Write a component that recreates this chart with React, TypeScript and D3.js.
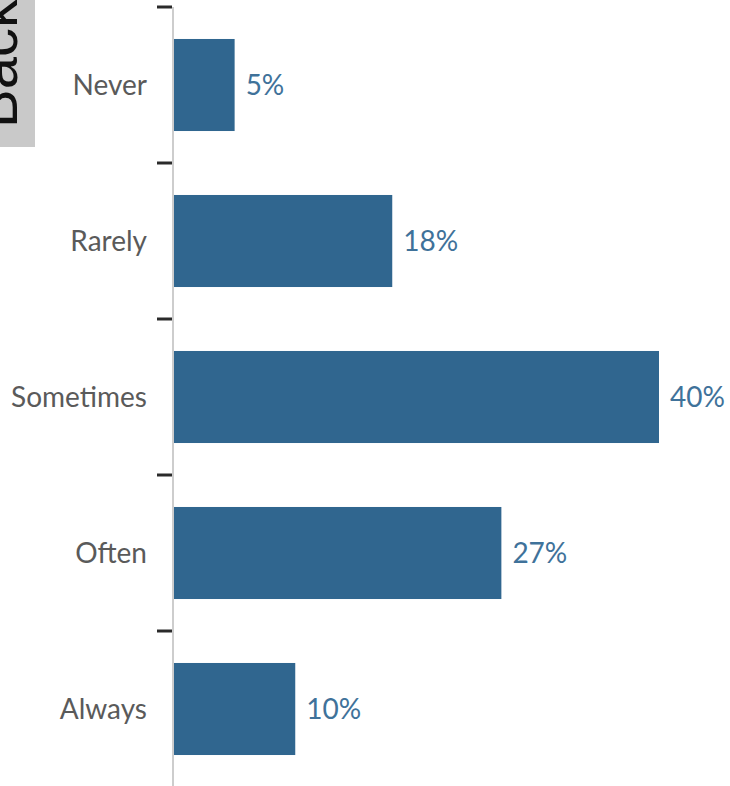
import React from "react";
import * as d3 from "d3";

const categories: string[] = ["Never", "Rarely", "Sometimes", "Often", "Always"];
const values: number[] = [5, 18, 40, 27, 10];
const valueLabels: string[] = ["5%", "18%", "40%", "27%", "10%"];
const sideTabText = "Back";

const W = 730;
const H = 786;

export default function App() {
  const x = d3.scaleLinear().domain([0, 40]).range([174, 659]);
  const y = d3
    .scaleBand<string>()
    .domain(categories)
    .range([7, 787])
    .paddingInner(0.41)
    .paddingOuter(0.205);
  const step = y.step();
  const bw = y.bandwidth();
  const gap = (step - bw) / 2;

  return (
    <div style={{ position: "fixed", left: 0, top: 0 }}>
      <svg width={W} height={H} style={{ display: "block", background: "#fff" }}>
        <rect x={0} y={0} width={35} height={147} fill="#c9c9c9" />
        <text
          transform="translate(17,128) rotate(-90)"
          fontFamily="'Liberation Sans', Arial, sans-serif"
          fontSize={58}
          fill="#111"
        >
          {sideTabText}
        </text>

        <line x1={173} x2={173} y1={7} y2={H} stroke="#bdbdbd" strokeWidth={1.5} />
        {categories.map((c) => (
          <line
            key={"t" + c}
            x1={157}
            x2={172}
            y1={(y(c) as number) - gap}
            y2={(y(c) as number) - gap}
            stroke="#2a2a2a"
            strokeWidth={3}
          />
        ))}

        {categories.map((c, i) => {
          const y0 = y(c) as number;
          const cy = y0 + bw / 2;
          return (
            <g key={c}>
              <rect x={x(0)} y={y0} width={x(values[i]) - x(0)} height={bw} fill="#30668f" />
              <text
                x={147}
                y={cy}
                dy="0.35em"
                textAnchor="end"
                fontFamily="Lato, 'Open Sans', sans-serif"
                fontSize={28}
                fill="#5a5a5a"
              >
                {c}
              </text>
              <text
                x={x(values[i]) + 11}
                y={cy}
                dy="0.36em"
                textAnchor="start"
                fontFamily="Lato, 'Open Sans', sans-serif"
                fontSize={28}
                fill="#3f729a"
              >
                {valueLabels[i]}
              </text>
            </g>
          );
        })}
      </svg>
    </div>
  );
}
